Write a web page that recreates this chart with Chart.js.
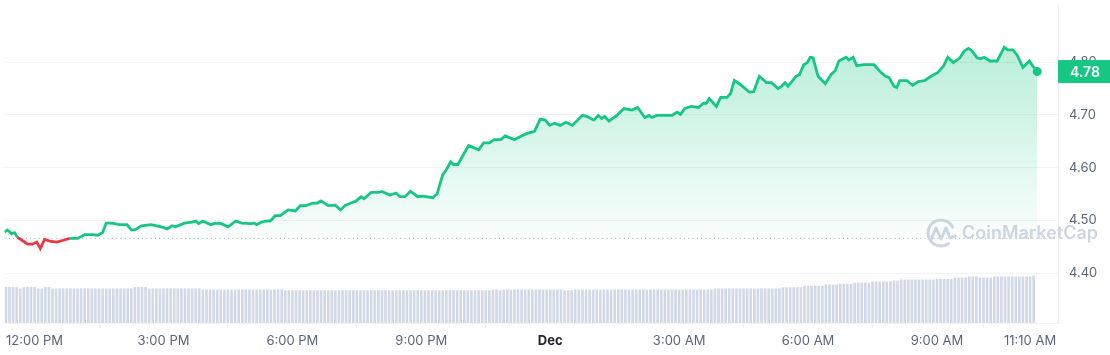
<!DOCTYPE html>
<html>
<head>
<meta charset="utf-8">
<title>Price chart</title>
<script src="https://cdn.jsdelivr.net/npm/chart.js@4.4.1/dist/chart.umd.min.js"></script>
<style>
    body { margin: 0; background: #fff; }
    .chart-box { position: relative; width: 1110px; height: 355px; }
</style>
</head>
<body>
<div class="chart-box"><canvas id="priceChart"></canvas></div>
<script>
// Data (minutes from 12:00 PM)
const priceTimes = [
    -42, -38, -32, -28, -24, -17, -10, -3, 3, 8, 14, 21, 31, 39, 49, 60, 70, 81, 88, 95,
    100, 108, 118, 129, 135, 140, 149, 163, 177, 185, 192, 197, 209, 220, 225, 229, 235, 246, 253, 261,
    270, 281, 289, 302, 307, 310, 317, 324, 329, 336, 343, 354, 364, 371, 379, 389, 395, 400, 410, 420,
    427, 434, 442, 449, 456, 460, 470, 480, 485, 496, 505, 510, 517, 525, 535, 542, 556, 562, 570, 574,
    581, 585, 591, 606, 613, 620, 627, 635, 642, 651, 657, 670, 681, 688, 698, 706, 713, 719, 726, 734,
    742, 751, 765, 771, 781, 787, 792, 796, 802, 813, 823, 834, 842, 852, 858, 862, 869, 890, 897, 902,
    908, 917, 927, 934, 938, 942, 952, 958, 967, 972, 977, 984, 998, 1004, 1012, 1022, 1029, 1038, 1043, 1048,
    1052, 1063, 1068, 1074, 1079, 1083, 1087, 1094, 1104, 1112, 1118, 1123, 1133, 1137, 1143, 1148, 1158, 1172, 1182, 1188,
    1193, 1200, 1204, 1208, 1218, 1226, 1234, 1243, 1254, 1261, 1269, 1275, 1283, 1292, 1298, 1304, 1309, 1316, 1321, 1326,
    1334, 1344, 1354, 1359, 1366, 1372, 1380, 1389, 1394, 1400
];
const prices = [
    4.478, 4.482, 4.475, 4.477, 4.468, 4.462, 4.455, 4.455, 4.459, 4.447, 4.464, 4.461, 4.459, 4.462, 4.466, 4.466, 4.473, 4.473, 4.472, 4.477,
    4.495, 4.495, 4.492, 4.492, 4.482, 4.482, 4.490, 4.492, 4.488, 4.484, 4.490, 4.488, 4.495, 4.497, 4.499, 4.494, 4.499, 4.492, 4.495, 4.494,
    4.488, 4.499, 4.495, 4.494, 4.495, 4.492, 4.497, 4.499, 4.499, 4.509, 4.509, 4.520, 4.518, 4.528, 4.528, 4.533, 4.533, 4.537, 4.528, 4.529,
    4.520, 4.529, 4.533, 4.537, 4.545, 4.541, 4.553, 4.553, 4.555, 4.548, 4.552, 4.545, 4.545, 4.555, 4.545, 4.546, 4.543, 4.550, 4.587, 4.594,
    4.611, 4.606, 4.606, 4.642, 4.638, 4.634, 4.647, 4.647, 4.653, 4.653, 4.660, 4.653, 4.661, 4.665, 4.669, 4.692, 4.690, 4.680, 4.684, 4.680,
    4.686, 4.680, 4.699, 4.697, 4.690, 4.699, 4.693, 4.697, 4.688, 4.699, 4.712, 4.709, 4.714, 4.695, 4.699, 4.695, 4.699, 4.699, 4.705, 4.701,
    4.712, 4.716, 4.714, 4.722, 4.722, 4.731, 4.716, 4.733, 4.733, 4.741, 4.765, 4.759, 4.743, 4.744, 4.773, 4.761, 4.761, 4.750, 4.754, 4.761,
    4.754, 4.773, 4.776, 4.795, 4.799, 4.809, 4.808, 4.773, 4.759, 4.776, 4.784, 4.802, 4.809, 4.804, 4.809, 4.793, 4.795, 4.795, 4.780, 4.773,
    4.771, 4.754, 4.752, 4.765, 4.765, 4.756, 4.763, 4.765, 4.775, 4.780, 4.792, 4.809, 4.799, 4.808, 4.821, 4.826, 4.821, 4.808, 4.806, 4.809,
    4.802, 4.802, 4.828, 4.823, 4.823, 4.813, 4.790, 4.802, 4.792, 4.782
];
const openPrice = 4.466;

// 24h volume (M), one bar every 5 minutes starting at 11:20 AM (-40)
const volumeStart = -40;
const volumeStep = 5;
const volumes = [
    22.4, 22.4, 22.4, 22.4, 21.5, 22.4, 22.4, 22.4, 22.4, 21.5,
    21.5, 22.4, 22.4, 21.5, 21.5, 21.5, 21.5, 21.5, 21.5, 21.5,
    21.5, 21.5, 21.5, 21.5, 21.5, 21.5, 21.5, 21.5, 21.5, 21.5,
    21.5, 21.5, 21.5, 21.5, 21.5, 21.5, 22.4, 22.4, 22.4, 22.4,
    21.5, 21.5, 21.5, 21.5, 21.5, 21.5, 21.5, 21.5, 21.5, 21.5,
    21.5, 21.5, 21.5, 21.5, 21.5, 20.9, 20.9, 20.9, 20.9, 20.9,
    20.9, 20.9, 20.9, 20.9, 20.9, 20.9, 20.9, 20.9, 20.9, 20.9,
    20.9, 20.9, 20.9, 20.9, 20.9, 20.9, 20.9, 20.9, 20.3, 20.3,
    20.3, 20.3, 20.3, 20.3, 20.3, 20.3, 20.3, 20.3, 20.3, 20.3,
    20.3, 20.3, 20.3, 20.3, 20.3, 20.3, 20.3, 20.3, 20.3, 20.3,
    20.3, 20.3, 20.3, 20.3, 20.3, 20.3, 20.3, 20.3, 20.3, 20.3,
    20.3, 20.3, 20.3, 20.3, 20.3, 20.3, 20.3, 20.3, 20.3, 20.3,
    20.3, 20.3, 20.3, 20.3, 20.3, 20.3, 20.3, 20.3, 20.3, 20.3,
    20.3, 20.3, 20.3, 20.3, 20.3, 20.3, 20.9, 20.9, 20.3, 20.9,
    20.9, 20.9, 20.9, 20.9, 20.9, 20.9, 20.9, 20.9, 20.9, 20.9,
    20.9, 20.9, 20.9, 20.9, 20.9, 20.9, 20.3, 20.3, 20.3, 20.9,
    20.9, 20.9, 20.9, 20.9, 20.9, 20.9, 20.9, 20.9, 20.9, 20.9,
    20.9, 20.9, 20.9, 20.9, 20.9, 20.9, 20.9, 20.9, 20.9, 20.9,
    20.9, 20.9, 20.9, 20.9, 20.9, 20.9, 20.9, 20.9, 20.9, 20.9,
    20.9, 20.9, 20.9, 20.9, 20.9, 20.9, 20.9, 20.9, 21.5, 21.5,
    21.5, 21.5, 21.5, 21.5, 21.5, 21.5, 21.5, 21.5, 21.5, 21.5,
    21.5, 21.5, 21.5, 21.5, 21.5, 21.5, 21.5, 22.2, 22.2, 22.2,
    22.2, 22.2, 22.2, 23.2, 23.2, 23.2, 23.2, 23.2, 23.2, 24.0,
    24.0, 24.0, 24.0, 24.4, 24.4, 24.4, 24.4, 25.0, 25.0, 25.0,
    25.0, 25.0, 25.9, 25.9, 25.9, 25.9, 25.9, 25.9, 26.5, 26.5,
    27.1, 27.1, 27.1, 27.1, 27.1, 27.1, 27.1, 27.1, 27.1, 27.1,
    27.5, 27.5, 27.5, 27.5, 27.5, 28.4, 28.4, 28.4, 28.4, 29.0,
    29.0, 29.0, 28.4, 28.4, 28.4, 28.4, 29.0, 29.0, 29.0, 29.0,
    29.0, 29.0, 29.0, 29.0, 29.0, 29.0, 29.0, 29.6
];

const xTickMinutes = [0, 180, 360, 540, 720, 900, 1080, 1260, 1390];
const xTickLabels = ['12:00 PM', '3:00 PM', '6:00 PM', '9:00 PM', 'Dec', '3:00 AM', '6:00 AM', '9:00 AM', '11:10 AM'];
const yTicks = [4.40, 4.50, 4.60, 4.70, 4.80];

const green = '#16c784';
const red = '#ea3943';

Chart.defaults.font.family = 'Inter, "Noto Sans", sans-serif';

// Dotted open line + watermark
const backdropPlugin = {
    id: 'backdrop',
    beforeDatasetsDraw(chart) {
        const { ctx, chartArea } = chart;
        const y = chart.scales.y.getPixelForValue(openPrice);
        ctx.save();
        ctx.strokeStyle = '#a6b0c3';
        ctx.lineWidth = 1;
        ctx.setLineDash([1, 3.3]);
        ctx.beginPath();
        ctx.moveTo(chartArea.left, y);
        ctx.lineTo(chartArea.right, y);
        ctx.stroke();
        ctx.setLineDash([]);

        // logo
        ctx.strokeStyle = '#cfd6e3';
        ctx.lineWidth = 3;
        ctx.lineCap = 'round';
        ctx.lineJoin = 'round';
        ctx.beginPath();
        ctx.arc(941, 233, 13, 0.3 * Math.PI, 1.85 * Math.PI);
        ctx.stroke();
        ctx.beginPath();
        ctx.moveTo(931, 240);
        ctx.lineTo(936, 228);
        ctx.lineTo(941, 239);
        ctx.lineTo(946, 228);
        ctx.lineTo(950, 238);
        ctx.lineTo(955, 236);
        ctx.stroke();

        ctx.fillStyle = '#cfd6e3';
        ctx.font = '600 18px Inter, sans-serif';
        ctx.textBaseline = 'middle';
        ctx.fillText('CoinMarketCap', 962, 234);
        ctx.restore();
    }
};

// Current price badge
const badgePlugin = {
    id: 'badge',
    afterDraw(chart) {
        const { ctx, chartArea } = chart;
        const meta = chart.getDatasetMeta(0);
        const last = meta.data[meta.data.length - 1];
        const y = last.y;
        ctx.save();
        ctx.fillStyle = green;
        ctx.fillRect(chartArea.right, y - 11.5, chart.width - chartArea.right, 23);
        ctx.fillStyle = '#fff';
        ctx.font = '600 14px Inter, sans-serif';
        ctx.textAlign = 'center';
        ctx.textBaseline = 'middle';
        ctx.fillText(prices[prices.length - 1].toFixed(2), chartArea.right + (chart.width - chartArea.right) / 2 + 1, y + 1);
        ctx.restore();
    }
};

const priceCtx = document.getElementById('priceChart');
const priceChart = new Chart(priceCtx, {
    type: 'line',
    data: {
        datasets: [{
            label: 'Price',
            data: priceTimes.map((t, i) => ({ x: t, y: prices[i] })),
            yAxisID: 'y',
            order: 0,
            borderColor: green,
            borderWidth: 2.8,
            tension: 0,
            fill: { value: openPrice },
            backgroundColor: (context) => {
                const chart = context.chart;
                const area = chart.chartArea;
                if (!area) return 'rgba(22, 199, 132, 0.1)';
                const base = chart.scales.y.getPixelForValue(openPrice);
                const g = chart.ctx.createLinearGradient(0, area.top + 40, 0, base);
                g.addColorStop(0, 'rgba(22, 199, 132, 0.30)');
                g.addColorStop(1, 'rgba(22, 199, 132, 0.02)');
                return g;
            },
            segment: {
                borderColor: (ctx) => (ctx.p0.parsed.y + ctx.p1.parsed.y) / 2 < openPrice ? red : green
            },
            pointRadius: (ctx) => ctx.dataIndex === prices.length - 1 ? 4.5 : 0,
            pointBackgroundColor: green,
            pointBorderWidth: 0,
            pointHoverRadius: 0
        }, {
            type: 'bar',
            label: 'Volume',
            data: volumes.map((v, i) => ({ x: volumeStart + i * volumeStep, y: v })),
            yAxisID: 'y2',
            order: 1,
            backgroundColor: '#d2d9e6',
            barThickness: 2
        }]
    },
    options: {
        responsive: true,
        maintainAspectRatio: false,
        animation: false,
        layout: { padding: 0 },
        plugins: {
            legend: { display: false },
            tooltip: { enabled: false }
        },
        scales: {
            x: {
                type: 'linear',
                min: -42,
                max: 1429,
                offset: false,
                afterBuildTicks: (scale) => {
                    scale.ticks = xTickMinutes.map(v => ({ value: v }));
                },
                afterFit: (scale) => {
                    scale.height = 32;
                    scale.paddingLeft = 0;
                    scale.paddingRight = 0;
                },
                grid: {
                    drawOnChartArea: false,
                    color: '#eceff3',
                    tickLength: 5
                },
                border: { color: '#f1f3f6' },
                ticks: {
                    autoSkip: false,
                    maxRotation: 0,
                    padding: 5,
                    color: (ctx) => ctx.tick && ctx.tick.label === 'Dec' ? '#222531' : '#58667e',
                    font: (ctx) => ({
                        size: 13,
                        weight: ctx.tick && ctx.tick.label === 'Dec' ? '700' : '400'
                    }),
                    callback: (value) => {
                        const i = xTickMinutes.indexOf(value);
                        return i >= 0 ? xTickLabels[i] : '';
                    }
                }
            },
            y: {
                type: 'linear',
                position: 'right',
                min: 4.3058,
                max: 4.909,
                afterBuildTicks: (scale) => {
                    scale.ticks = yTicks.map(v => ({ value: v }));
                },
                afterFit: (scale) => {
                    scale.width = 52;
                    scale.paddingTop = 0;
                    scale.paddingBottom = 0;
                },
                grid: {
                    color: '#f1f3f6',
                    drawTicks: false
                },
                border: { display: true, color: '#e9ecf0' },
                ticks: {
                    padding: 11,
                    color: '#58667e',
                    font: { size: 13 },
                    callback: (value) => value.toFixed(2)
                }
            },
            y2: {
                type: 'linear',
                display: false,
                min: 0,
                max: 200
            }
        }
    },
    plugins: [backdropPlugin, badgePlugin]
});
</script>
</body>
</html>
